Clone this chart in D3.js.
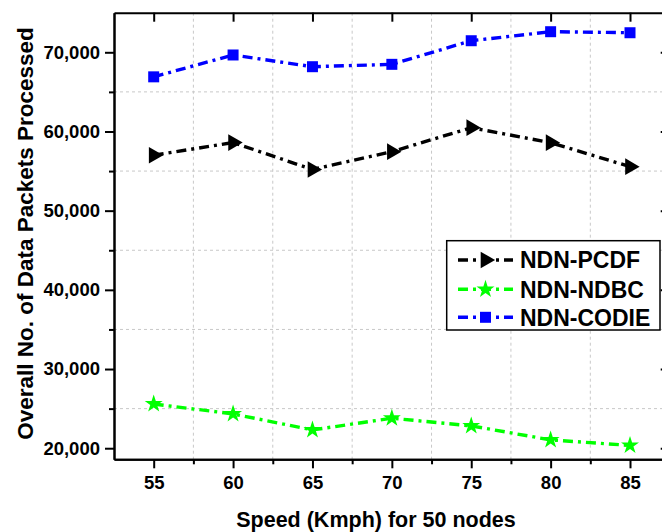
<meta charset="utf-8">
<head>
  <script src="https://d3js.org/d3.v7.min.js"></script>
  <style>
    body { margin: 0; background: #fff; }
    text { font-family: "Liberation Sans", Arial, sans-serif; font-weight: bold; fill: #000; }
  </style>
</head>
<body>
  <svg id="svg" width="662" height="532"></svg>
  <script>
    // data
    const speeds = [55, 60, 65, 70, 75, 80, 85];
    const pcdf = [57000, 58600, 55200, 57450, 60480, 58590, 55560];
    const ndbc = [25590, 24330, 22310, 23790, 22820, 21050, 20350];
    const codie = [66900, 69660, 68180, 68480, 71460, 72600, 72470];
    const yTicks = [20000, 30000, 40000, 50000, 60000, 70000];
    const yMinor = [25000, 35000, 45000, 55000, 65000];
    const xMinor = [57.5, 62.5, 67.5, 72.5, 77.5, 82.5];
    const seriesNames = ["NDN-PCDF", "NDN-NDBC", "NDN-CODIE"];

    const series = [
      {name: seriesNames[0], values: pcdf, color: "#000000", symbol: "tri"},
      {name: seriesNames[1], values: ndbc, color: "#00ff00", symbol: "star"},
      {name: seriesNames[2], values: codie, color: "#0000ff", symbol: "square"}
    ];

    const svg = d3.select("#svg");
    const pLeft = 114, pRight = 669.7, pTop = 12.7, pBottom = 459.3;

    const x = d3.scaleLinear().domain([52.5, 87.5]).range([pLeft, pRight]);
    const y = d3.scaleLinear().domain([18600, 75000]).range([pBottom, pTop]);

    // grid
    const grid = svg.append("g").attr("stroke", "#c8c8c8").attr("stroke-width", 1).attr("stroke-dasharray", "3,3");
    grid.selectAll(".gx").data(xMinor).enter().append("line")
      .attr("x1", d => x(d)).attr("x2", d => x(d)).attr("y1", pTop).attr("y2", pBottom);
    grid.selectAll(".gy").data(yMinor).enter().append("line")
      .attr("x1", pLeft).attr("x2", pRight).attr("y1", d => y(d)).attr("y2", d => y(d));

    function styleAxis(g) {
      g.select(".domain").attr("stroke", "#000").attr("stroke-width", 2);
      g.selectAll(".tick line").attr("stroke", "#000").attr("stroke-width", 2);
      g.selectAll(".tick text").style("font-size", "18.5px").style("font-weight", "bold");
    }

    // bottom
    svg.append("g").attr("transform", `translate(0,${pBottom})`)
      .call(d3.axisBottom(x).tickValues(xMinor).tickSize(5).tickFormat("").tickSizeOuter(0))
      .call(styleAxis);
    svg.append("g").attr("transform", `translate(0,${pBottom})`)
      .call(d3.axisBottom(x).tickValues(speeds).tickSize(9).tickPadding(8).tickSizeOuter(0).tickFormat(d3.format("d")))
      .call(styleAxis);
    // top
    svg.append("g").attr("transform", `translate(0,${pTop})`)
      .call(d3.axisBottom(x).tickValues(speeds).tickSize(9).tickFormat("").tickSizeOuter(0))
      .call(styleAxis);
    // left
    svg.append("g").attr("transform", `translate(${pLeft},0)`)
      .call(d3.axisLeft(y).tickValues(yMinor).tickSize(5).tickFormat("").tickSizeOuter(0))
      .call(styleAxis);
    svg.append("g").attr("transform", `translate(${pLeft},0)`)
      .call(d3.axisLeft(y).tickValues(yTicks).tickSize(9).tickPadding(5).tickSizeOuter(0).tickFormat(d3.format(",")))
      .call(styleAxis);
    // right
    svg.append("g").attr("transform", `translate(${pRight},0)`)
      .call(d3.axisLeft(y).tickValues(yTicks).tickSize(9).tickFormat("").tickSizeOuter(0))
      .call(styleAxis);

    function marker(sel, kind, color) {
      if (kind === "square") {
        sel.attr("d", d3.symbol(d3.symbolSquare, 121)()).attr("fill", color);
      } else if (kind === "star") {
        sel.attr("d", d3.symbol(d3.symbolStar, 100)()).attr("fill", color);
      } else {
        sel.attr("d", d3.symbol(d3.symbolTriangle, 120)()).attr("fill", color);
      }
    }

    const line = d3.line().x((d, i) => x(speeds[i])).y(d => y(d));

    series.forEach(s => {
      svg.append("path").datum(s.values)
        .attr("d", line)
        .attr("fill", "none")
        .attr("stroke", s.color)
        .attr("stroke-width", 3.4)
        .attr("stroke-dasharray", "10,5,3,5");
      svg.selectAll(null).data(s.values).enter().append("path")
        .attr("transform", (d, i) => `translate(${x(speeds[i])},${y(d)})` + (s.symbol === "tri" ? " rotate(90)" : ""))
        .call(marker, s.symbol, s.color);
    });

    // axis titles
    svg.append("text")
      .attr("x", 376).attr("y", 527)
      .attr("text-anchor", "middle")
      .style("font-size", "21.5px")
      .text("Speed (Kmph) for 50 nodes");
    svg.append("text")
      .attr("transform", `translate(32.5,233.5) rotate(-90)`)
      .attr("text-anchor", "middle")
      .style("font-size", "22.5px")
      .text("Overall No. of Data Packets Processed");

    // legend
    const lg = svg.append("g");
    lg.append("rect")
      .attr("x", 446.7).attr("y", 240.7).attr("width", 213.3).attr("height", 89.3)
      .attr("fill", "#fff").attr("stroke", "#000").attr("stroke-width", 1.5);
    const rows = [260, 289.3, 317.3];
    series.forEach((s, i) => {
      lg.append("line").attr("x1", 458).attr("x2", 513).attr("y1", rows[i]).attr("y2", rows[i])
        .attr("stroke", s.color).attr("stroke-width", 3.4).attr("stroke-dasharray", "10,5,3,5");
      lg.append("path")
        .attr("transform", `translate(485.5,${rows[i]})` + (s.symbol === "tri" ? " rotate(90)" : ""))
        .call(marker, s.symbol, s.color);
      lg.append("text").attr("x", 520).attr("y", rows[i]).attr("dy", "0.36em")
        .style("font-size", "23px").text(s.name);
    });
  </script>
</body>
